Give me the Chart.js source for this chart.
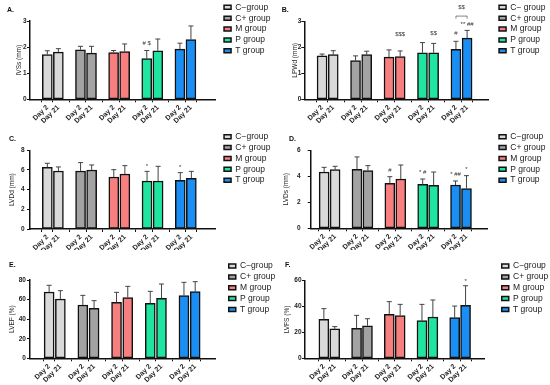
<!DOCTYPE html>
<html><head><meta charset="utf-8">
<script src="https://cdn.jsdelivr.net/npm/chart.js@4.4.1/dist/chart.umd.min.js"></script>
<style>
html,body{margin:0;padding:0;background:#fff;}
#fig{position:relative;width:550px;height:385px;overflow:hidden;background:#fff;}
#fig canvas{position:absolute;}
</style></head><body><div id="fig"></div>
<script>
// ---------- data ----------
const dayLabels = ["Day 2", "Day 21"];
const groupNames = ["C−group", "C+ group", "M group", "P group", "T group"];
const groupNamesB = ["C− group", "C+ group", "M group", "P group", "T group"];
const panelLetters = ["A.", "B.", "C.", "D.", "E.", "F."];
const yTitles = ["IVSs (mm)", "LPWd (mm)", "LVDd (mm)", "LVDs (mm)", "LVEF (%)", "LVFS (%)"];
const yMax = [3, 3, 8, 6, 80, 60];
const yStep = [1, 1, 2, 2, 20, 20];
// order: C- D2, C- D21, C+ D2, C+ D21, M D2, M D21, P D2, P D21, T D2, T D21
const ivssMean = [1.71, 1.81, 1.90, 1.77, 1.79, 1.83, 1.56, 1.86, 1.92, 2.29];
const ivssSD   = [0.15, 0.13, 0.13, 0.26, 0.08, 0.29, 0.31, 0.45, 0.23, 0.52];
const lpwdMean = [1.67, 1.72, 1.49, 1.72, 1.62, 1.64, 1.79, 1.79, 1.92, 2.35];
const lpwdSD   = [0.07, 0.15, 0.18, 0.13, 0.28, 0.22, 0.39, 0.36, 0.31, 0.30];
const lvddMean = [6.27, 5.90, 5.90, 6.00, 5.29, 5.59, 4.88, 4.88, 4.95, 5.15];
const lvddSD   = [0.41, 0.41, 0.85, 0.51, 0.74, 0.85, 0.98, 1.49, 0.78, 0.71];
const lvdsMean = [4.33, 4.51, 4.54, 4.44, 3.46, 3.79, 3.38, 3.31, 3.33, 3.05];
const lvdsSD   = [0.36, 0.26, 0.95, 0.38, 0.51, 1.08, 0.41, 1.02, 0.31, 1.00];
const lvefMean = [67.7, 60.6, 54.5, 51.1, 57.2, 62.0, 56.2, 61.3, 64.0, 68.1];
const lvefSD   = [6.9, 8.5, 9.8, 7.8, 10.2, 11.5, 12.2, 14.6, 13.6, 10.2];
const lvfsMean = [30.1, 22.7, 23.2, 25.2, 34.0, 33.0, 29.1, 31.9, 31.4, 40.9];
const lvfsSD   = [8.3, 1.8, 10.0, 5.4, 9.8, 8.7, 12.6, 13.2, 9.0, 15.2];
// significance marks: [text, bar index, value level]
const marksA = [["# $", 6, 2.15]];
const marksB = [["$$$", 5, 2.5], ["$$", 7, 2.54], ["#", 8, 2.54], ["** ##", 9, 2.9]];
const bracketB = {from: 8, to: 9, level: 3.2, text: "$$", textLevel: 3.55};
const marksC = [["*", 6, 6.34], ["*", 8, 6.24]];
const marksD = [["#", 4, 4.44], ["* #", 6, 4.31], ["* ##", 8, 4.15], ["*", 9, 4.54]];
const marksE = [];
const marksF = [["*", 9, 59.2]];

const means = [ivssMean, lpwdMean, lvddMean, lvdsMean, lvefMean, lvfsMean];
const sds = [ivssSD, lpwdSD, lvddSD, lvdsSD, lvefSD, lvfsSD];
const marks = [marksA, marksB, marksC, marksD, marksE, marksF];
const brackets = [null, bracketB, null, null, null, null];

// ---------- style / layout ----------
const groupColors = ['#d9d9d9', '#a3a3a3', '#f77f7f', '#20e5a0', '#1a8ef2'];
const panels = [
  {x:0,   y:0,   w:275, h:125, left:30,   right:215,   bottom:99.3,  tTop:5.8,  tBot:6.8,  tX:7,  legX:221.7, legY:0.75, ytPad:15.3, yTickPad:0.3, xMin:-0.73, xMax:14.34},
  {x:275, y:0,   w:275, h:125, left:29.3, right:213,   bottom:99.3,  tTop:5.8,  tBot:7.1,  tX:6.7,legX:221.7, legY:0.75, ytPad:16.0, yTickPad:0,   xMin:-0.77, xMax:14.05},
  {x:0,   y:125, w:275, h:125, left:30,   right:215,   bottom:104,   tTop:9.8,  tBot:7.1,  tX:9,  legX:221.7, legY:5.15, ytPad:8.6,  yTickPad:2.5, xMin:-0.73, xMax:14.3},
  {x:275, y:125, w:275, h:125, left:35.7, right:212.7, bottom:103.3, tTop:9.8,  tBot:7.1,  tX:14, legX:221.7, legY:5.15, ytPad:7.4,  yTickPad:7.2, xMin:-0.42, xMax:14.13},
  {x:0,   y:250, w:275, h:135, left:30,   right:215,   bottom:108.3, tTop:10.8, tBot:10.8, tX:9,  legX:226.4, legY:9.45, ytPad:8.1,  yTickPad:1.1, xMin:-0.88, xMax:13.94},
  {x:275, y:250, w:275, h:135, left:30,   right:209,   bottom:108.3, tTop:10.5, tBot:11.8, tX:10, legX:224.4, legY:9.45, ytPad:8.4,  yTickPad:0.5, xMin:-0.91, xMax:13.87}
];

Chart.defaults.font.family = '"Liberation Sans", Arial, sans-serif';
Chart.defaults.color = '#222';

// bar index (0..9) -> slot on x scale (2 bars per group + one gap slot)
const slotOf = b => Math.floor(b / 2) * 3 + (b % 2);
const barSlots = [0,1,2,3,4,5,6,7,8,9].map(slotOf);

const errorBars = {
  id: 'errorBars',
  afterDatasetsDraw(chart) {
    const ctx = chart.ctx, ys = chart.scales.y;
    ctx.save();
    ctx.strokeStyle = '#444';
    ctx.lineWidth = 1;
    chart.data.datasets.forEach((ds, di) => {
      const meta = chart.getDatasetMeta(di);
      meta.data.forEach((bar, i) => {
        const top = ys.getPixelForValue(ds.data[i].y + ds.errors[i]);
        ctx.beginPath();
        ctx.moveTo(bar.x, bar.y);
        ctx.lineTo(bar.x, top);
        ctx.moveTo(bar.x - 2.5, top);
        ctx.lineTo(bar.x + 2.5, top);
        ctx.stroke();
      });
    });
    ctx.restore();
  }
};

const sigMarks = {
  id: 'sigMarks',
  afterDraw(chart, args, opts) {
    const ctx = chart.ctx, xs = chart.scales.x, ys = chart.scales.y;
    ctx.save();
    ctx.fillStyle = '#333';
    ctx.font = '6px "Liberation Sans", Arial, sans-serif';
    ctx.textAlign = 'center';
    ctx.textBaseline = 'middle';
    (opts.marks || []).forEach(([text, bar, level]) => {
      ctx.fillText(text, xs.getPixelForValue(slotOf(bar)), ys.getPixelForValue(level));
    });
    const br = opts.bracket;
    if (br) {
      const x1 = xs.getPixelForValue(slotOf(br.from)), x2 = xs.getPixelForValue(slotOf(br.to));
      const y = ys.getPixelForValue(br.level);
      ctx.strokeStyle = '#666';
      ctx.lineWidth = 0.8;
      ctx.beginPath();
      ctx.moveTo(x1, y + 2.5); ctx.lineTo(x1, y); ctx.lineTo(x2, y); ctx.lineTo(x2, y + 2.5);
      ctx.stroke();
      ctx.fillText(br.text, (x1 + x2) / 2, ys.getPixelForValue(br.textLevel));
    }
    ctx.restore();
  }
};

function makeLayoutPlugin(p) {
  const legendWidth = p.w - p.right;
  return {
    id: 'panelLayout',
    beforeInit(chart) {
      const lg = chart.legend;
      const baseFit = lg.fit;
      lg.fit = function () { baseFit.call(this); this.width = legendWidth; };
    },
    afterLayout(chart) {
      const lg = chart.legend;
      lg.left = p.legX; lg.right = p.legX + legendWidth; lg.top = p.legY;
      const t = chart.titleBlock;
      t.left = p.tX; t.right = p.tX + 40;
    }
  };
}

const fig = document.getElementById('fig');
panels.forEach((p, i) => {
  const canvas = document.createElement('canvas');
  canvas.width = p.w; canvas.height = p.h;
  canvas.style.left = p.x + 'px'; canvas.style.top = p.y + 'px';
  canvas.style.width = p.w + 'px'; canvas.style.height = p.h + 'px';
  fig.appendChild(canvas);
  const names = i === 1 ? groupNamesB : groupNames;
  const datasets = names.map((name, g) => ({
    label: name,
    data: [0, 1].map(d => ({x: slotOf(g * 2 + d), y: means[i][g * 2 + d]})),
    errors: [0, 1].map(d => sds[i][g * 2 + d]),
    backgroundColor: groupColors[g],
    borderColor: '#111',
    borderWidth: 1.5,
    borderSkipped: false,
    barThickness: 10,
    grouped: false
  }));
  new Chart(canvas, {
    type: 'bar',
    data: {datasets},
    plugins: [makeLayoutPlugin(p), errorBars, sigMarks],
    options: {
      responsive: false, animation: false, devicePixelRatio: 1,
      layout: {padding: 0},
      plugins: {
        legend: {display: true, position: 'right', align: 'start',
          labels: {boxWidth: 7, boxHeight: 4, padding: 2.35, color: '#222', font: {size: 8.5}}},
        title: {display: true, text: panelLetters[i], align: 'start', fullSize: false,
          font: {size: 7, weight: 'bold'}, color: '#111', padding: {top: p.tTop, bottom: p.tBot}},
        tooltip: {enabled: false},
        sigMarks: {marks: marks[i], bracket: brackets[i]}
      },
      scales: {
        x: {
          type: 'linear', min: p.xMin, max: p.xMax,
          afterBuildTicks: s => { s.ticks = barSlots.map(v => ({value: v})); },
          afterFit: s => { s.height = p.h - p.bottom; },
          ticks: {autoSkip: false, minRotation: 45, maxRotation: 45, padding: 1,
            font: {size: 7, weight: 'bold'}, color: '#222',
            callback: v => dayLabels[Math.round(v) % 3]},
          grid: {drawOnChartArea: false, tickLength: 3, color: '#111', lineWidth: 1},
          border: {color: '#111', width: 1.5}
        },
        y: {
          min: 0, max: yMax[i],
          afterFit: s => { s.width = p.left; },
          ticks: {stepSize: yStep[i], padding: p.yTickPad, font: {size: 6.5, weight: 'bold'}, color: '#222'},
          title: {display: true, text: yTitles[i], font: {size: 6.5}, color: '#222', padding: {top: p.ytPad, bottom: 0}},
          grid: {drawOnChartArea: false, tickLength: 3, color: '#111', lineWidth: 1},
          border: {color: '#111', width: 1.5}
        }
      }
    }
  });
});
</script></body></html>
